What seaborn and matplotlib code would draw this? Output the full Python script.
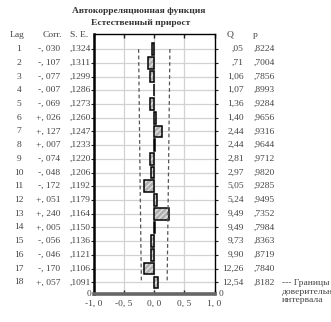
import matplotlib
matplotlib.use("Agg")
import matplotlib.pyplot as plt
import matplotlib.transforms as mtransforms
import numpy as np
import pandas as pd
import seaborn as sns

# Autocorrelation results, lags 1..18
lags = list(range(1, 19))
corr = [-0.030, -0.107, -0.077, -0.007, -0.069, 0.026, 0.127, 0.007, -0.074,
        -0.048, -0.172, 0.051, 0.240, 0.005, -0.056, -0.046, -0.170, 0.057]
std_err = [0.1324, 0.1311, 0.1299, 0.1286, 0.1273, 0.1260, 0.1247, 0.1233, 0.1220,
           0.1206, 0.1192, 0.1179, 0.1164, 0.1150, 0.1136, 0.1121, 0.1106, 0.1091]
box_q = [0.05, 0.71, 1.06, 1.07, 1.36, 1.40, 2.44, 2.44, 2.81, 2.97, 5.05, 5.24,
         9.49, 9.49, 9.73, 9.90, 12.26, 12.54]
p_val = [0.8224, 0.7004, 0.7856, 0.8993, 0.9284, 0.9656, 0.9316, 0.9644, 0.9712,
         0.9820, 0.9285, 0.9495, 0.7352, 0.7984, 0.8363, 0.8719, 0.7840, 0.8182]
x_ticks = [-1.0, -0.5, 0.0, 0.5, 1.0]
x_tick_labels = ["-1, 0", "-0, 5", "0, 0", "0, 5", "1, 0"]

title1 = "Автокорреляционная функция"
title2 = "Естественный прирост"
legend_lines = ["--- Границы", "доверительного", "интервала"]

sns.set_theme(style="white")
plt.rcParams["font.family"] = ["Liberation Serif", "DejaVu Serif"]

df = pd.DataFrame({"lag": lags, "corr": corr, "se": std_err})
df["upper"] = 1.96 * df["se"]
df["lower"] = -1.96 * df["se"]
pos = np.arange(len(lags))

W, H = 331, 322
fig = plt.figure(figsize=(W / 100, H / 100), dpi=100)
ax_top, ax_bot = 34, 294
ax = fig.add_axes([94 / W, (H - ax_bot) / H, 120.5 / W, (ax_bot - ax_top) / H])

grid_c = "#d2d2d2"
for y in pos:
    ax.axhline(y, color=grid_c, lw=0.9, zorder=0)
for x in [-0.5, 0.0, 0.5]:
    ax.axvline(x, color=grid_c, lw=0.9, zorder=0)

# hatched fill, then black outline
sns.barplot(data=df, x="corr", y="lag", orient="h", order=lags, width=0.85,
            color="#b0b0b0", edgecolor="#e0e0e0", linewidth=0, hatch="//////",
            ax=ax, zorder=2)
sns.barplot(data=df, x="corr", y="lag", orient="h", order=lags, width=0.85,
            fill=False, color="black", linewidth=1.1, ax=ax, zorder=3)

# confidence limits
for col in ["upper", "lower"]:
    sns.lineplot(x=df[col].values, y=pos, orient="y", sort=False, ax=ax,
                 color="#555555", lw=0.9, linestyle=(0, (3, 2.2)), zorder=4)

ax.set_xlim(-1.0, 1.0)
ax.set_ylim(17.85, -1.1)
ax.set_xlabel("")
ax.set_ylabel("")
ax.set_xticks(x_ticks)
ax.set_xticklabels(x_tick_labels, fontsize=6.8, color="#444444")
ax.set_yticks(pos)
ax.set_yticklabels([])
ax.tick_params(axis="x", direction="in", length=3, width=1, color="#222222",
               top=True, bottom=True, pad=4)
ax.tick_params(axis="y", direction="out", length=2.5, width=0.8, color="#222222",
               left=True, right=True)

for side in ["top", "right"]:
    ax.spines[side].set_color("black")
    ax.spines[side].set_linewidth(1.0)
ax.spines["left"].set_color("black")
ax.spines["left"].set_linewidth(1.8)
ax.spines["bottom"].set_color("#666666")
ax.spines["bottom"].set_linewidth(2.6)

txt = dict(fontsize=6.8, color="#444444", va="center")
tr = mtransforms.blended_transform_factory(fig.transFigure, ax.transData)

def fmt_corr(v):
    return ("+" if v >= 0 else "-") + ", " + f"{round(abs(v) * 1000):03d}"

def fmt_frac(v, nd, gap=""):
    s = f"{v:.{nd}f}".replace(".", "," + gap)
    return s[1:] if s.startswith("0") else s

for i, y in enumerate(pos):
    fig.text(19 / W, y, str(lags[i]), transform=tr, ha="center", **txt)
    fig.text(60 / W, y, fmt_corr(corr[i]), transform=tr, ha="right", **txt)
    fig.text(91 / W, y, fmt_frac(std_err[i], 4), transform=tr, ha="right", **txt)
    fig.text(244 / W, y, fmt_frac(box_q[i], 2), transform=tr, ha="right", **txt)
    fig.text(254 / W, y, fmt_frac(p_val[i], 4), transform=tr, ha="left", **txt)

head_y = (H - 35) / H
fig.text(17.5 / W, head_y, "Lag", ha="center", **txt)
fig.text(62 / W, head_y, "Corr.", ha="right", **txt)
fig.text(88 / W, head_y, "S. E.", ha="right", **txt)
fig.text(230 / W, head_y, "Q", ha="center", **txt)
fig.text(255 / W, head_y, "p", ha="center", **txt)

bot_y = (H - ax_bot) / H
fig.text(91 / W, bot_y, "0", ha="right", **txt)
fig.text(219 / W, bot_y, "0", ha="left", **txt)

fig.text(139 / W, (H - 11) / H, title1, ha="center", va="center", fontsize=6.8,
         color="#333333", fontweight="bold")
fig.text(141 / W, (H - 23) / H, title2, ha="center", va="center", fontsize=6.8,
         color="#333333", fontweight="bold")

for k, (line, yy) in enumerate(zip(legend_lines, [283, 292, 300])):
    fig.text(282 / W, (H - yy) / H, line, ha="left", va="center",
             fontsize=6.8, color="#444444")

fig.savefig("out.png", dpi=100)
